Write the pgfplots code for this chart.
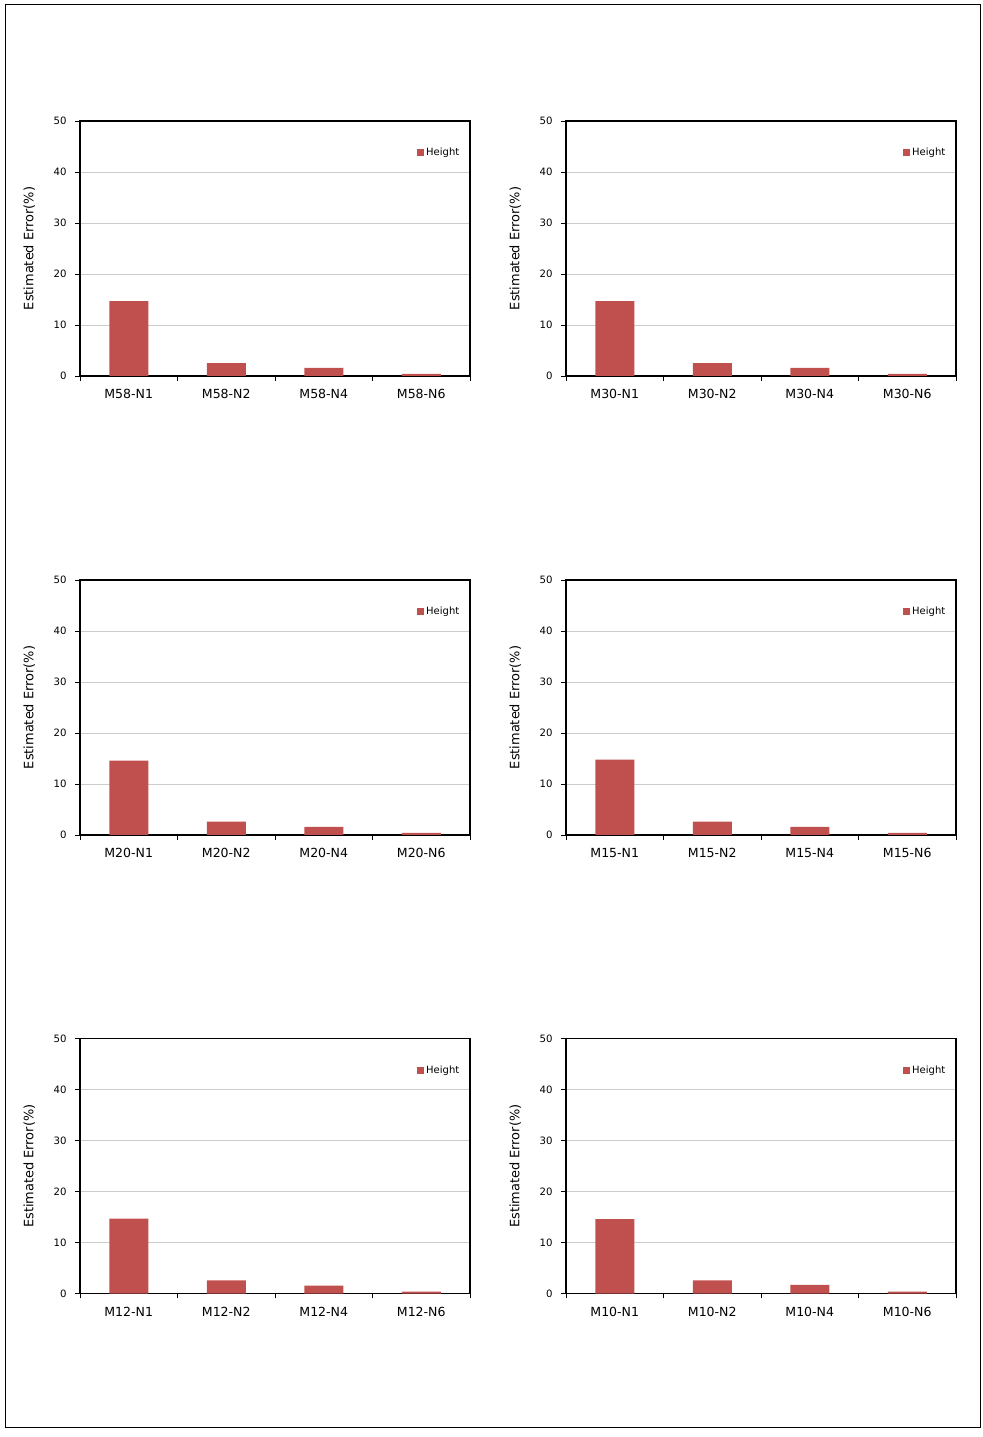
\documentclass[border=0pt]{standalone}
\usepackage{fontspec}
\setmainfont{DejaVu Sans}
\usepackage{pgfplots}
\pgfplotsset{compat=1.18}
\definecolor{barred}{RGB}{192,80,77}
\pgfplotsset{
  panel/.style={
    anchor=south west,
    scale only axis, width=292.5pt, height=191.25pt,
    xmin=-0.5, xmax=3.5, ymin=0, ymax=50,
    ytick={0,10,...,50},
    xtick={0,1,2,3},
    minor xtick={-0.5,0.5,1.5,2.5,3.5},
    tick align=outside,
    major tick length=3.5pt,
    minor tick length=3.5pt,
    major x tick style={draw=none},
    minor x tick style={black, line width=0.6pt},
    major y tick style={black, line width=0.6pt},
    xtick pos=bottom, ytick pos=left,
    ymajorgrids,
    grid style={black!20, line width=0.6pt},
    axis line style={black, line width=1pt},
    ybar, bar width=0.4,
    /pgf/number format/assume math mode=true,
    yticklabel style={font=\fontsize{7.6}{9}\selectfont, xshift=-3pt},
    xticklabel style={font=\fontsize{9.4}{11}\selectfont, yshift=-3.2pt},
    every axis y label/.style={at={(axis description cs:-0.13,0.5)}, rotate=90, anchor=center, font=\fontsize{9.7}{11}\selectfont},
    ylabel={Estimated Error(\%)},
    legend style={at={(rel axis cs:0.98,0.875)}, anchor=east, draw=none, fill=none,
      font=\fontsize{7.5}{9}\selectfont, inner sep=0pt},
  },
  hbar/.style={fill=barred, draw=none,
    legend image code/.code={\fill[barred] (0pt,-2.6pt) rectangle (5.2pt,2.6pt);}},
}
\begin{document}
\begin{tikzpicture}
\useasboundingbox (0,0) rectangle (736.5pt,1077.75pt);
\draw[line width=0.75pt] (3.75pt,6.75pt) rectangle (735pt,1074pt);

\begin{axis}[panel, at={(60pt,795.75pt)}, xticklabels={M58-N1,M58-N2,M58-N4,M58-N6}]
\addplot[hbar] coordinates {(0,14.7) (1,2.5) (2,1.6) (3,0.4)};
\legend{Height}
\end{axis}

\begin{axis}[panel, at={(424.5pt,795.75pt)}, xticklabels={M30-N1,M30-N2,M30-N4,M30-N6}]
\addplot[hbar] coordinates {(0,14.7) (1,2.5) (2,1.6) (3,0.4)};
\legend{Height}
\end{axis}

\begin{axis}[panel, at={(60pt,451.5pt)}, xticklabels={M20-N1,M20-N2,M20-N4,M20-N6}]
\addplot[hbar] coordinates {(0,14.6) (1,2.6) (2,1.6) (3,0.4)};
\legend{Height}
\end{axis}

\begin{axis}[panel, at={(424.5pt,451.5pt)}, xticklabels={M15-N1,M15-N2,M15-N4,M15-N6}]
\addplot[hbar] coordinates {(0,14.8) (1,2.6) (2,1.6) (3,0.4)};
\legend{Height}
\end{axis}

\begin{axis}[panel, at={(60pt,107.5pt)}, xticklabels={M12-N1,M12-N2,M12-N4,M12-N6}]
\addplot[hbar] coordinates {(0,14.7) (1,2.6) (2,1.6) (3,0.4)};
\legend{Height}
\end{axis}

\begin{axis}[panel, at={(424.5pt,107.5pt)}, xticklabels={M10-N1,M10-N2,M10-N4,M10-N6}]
\addplot[hbar] coordinates {(0,14.6) (1,2.6) (2,1.7) (3,0.4)};
\legend{Height}
\end{axis}
\end{tikzpicture}
\end{document}
